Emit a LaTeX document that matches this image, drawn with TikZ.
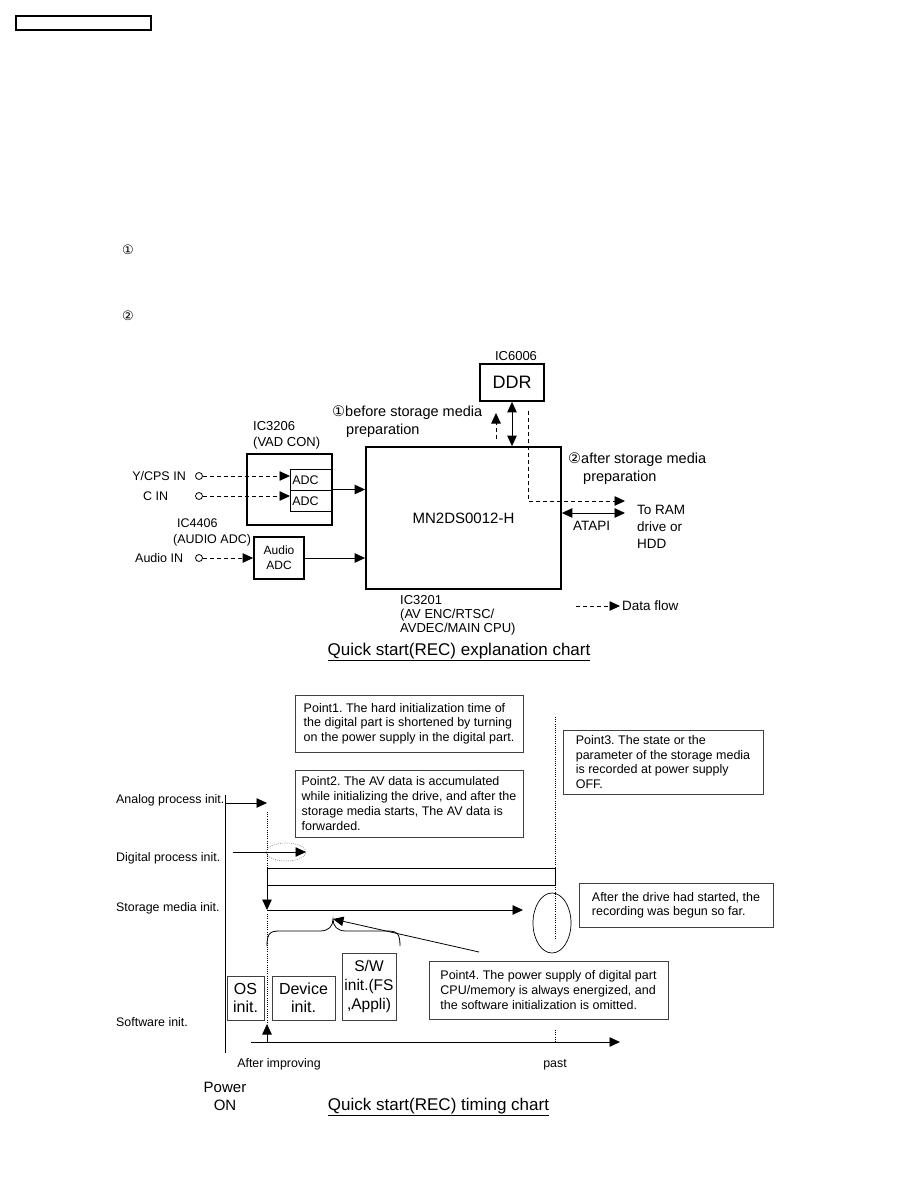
\documentclass[tikz,border=0pt]{standalone}
\usepackage{fontspec}
\setmainfont{Liberation Sans}
\newfontfamily\symfont{DejaVu Sans}
\usetikzlibrary{arrows.meta,shapes.geometric}
\newcommand\myfs[2]{\fontsize{#1}{#2}\selectfont}
\frenchspacing
\tikzset{
  >={Triangle[length=10.5pt,width=9.5pt]},
  thickbox/.style={draw, line width=1.8pt, inner sep=0pt},
  thinbox/.style={draw, line width=0.7pt, inner sep=0pt},
  notebox/.style={draw=black!75, line width=0.9pt, inner sep=0pt, align=left, font=\myfs{12.5}{14.7}},
  swbox/.style={draw=black!75, line width=0.9pt, inner sep=0pt, align=center},
  txt/.style={inner sep=0pt, anchor=west, font=\myfs{12.5}{14}, text height=9pt, text depth=0pt},
  ctxt/.style={inner sep=0pt, font=\myfs{12.4}{14}, text height=8.8pt, text depth=0pt},
  flow/.style={->, line width=0.9pt},
  dflow/.style={->, line width=0.8pt, dash pattern=on 4pt off 3pt},
  dotline/.style={line width=0.6pt, dash pattern=on 0.8pt off 1.4pt},
  port/.style={circle, draw, line width=0.8pt, minimum size=7pt, inner sep=0pt}
}
\begin{document}
\begin{tikzpicture}[x=1pt,y=-1pt]
\useasboundingbox (0,0) rectangle (918,1188);
% header box
\node[draw, line width=1.2pt, minimum width=135pt, minimum height=14pt, inner sep=0pt] (hdr) at (83.5,23) {};
% circled numbers
\node[inner sep=0pt, font=\symfont\myfs{13}{13}] (c1) at (128,250) {①};
\node[inner sep=0pt, font=\symfont\myfs{13}{13}] (c2) at (128,316) {②};

% ===== block diagram =====
\node[thickbox, minimum width=64pt, minimum height=37pt, font=\myfs{18}{18}] (ddr) at (512,382.5) {DDR};
\node[txt, anchor=center, font=\myfs{13}{14}] (ic6006) at (516,356) {IC6006};
\node[thickbox, minimum width=195pt, minimum height=142pt, font=\myfs{15}{15}] (mn) at (463.5,518) {MN2DS0012-H};
\draw[<->, line width=0.9pt] (ddr.south) -- (ddr.south |- mn.north);
\coordinate (up0) at (496,439);
\coordinate (up1) at (496,413);
\draw[dflow] (up0) -- (up1);
\coordinate (dd0) at (528,411);
\coordinate (dd1) at (528,501);
\coordinate (dd2) at (625,501);
\draw[dflow] (dd0) -- (dd1) -- (dd2);
\coordinate (at1) at (625,513);
\draw[<->, line width=0.9pt] (mn.east |- at1) -- (at1);

\node[txt, font=\myfs{14.5}{16}] (bsm) at (332,412) {{\symfont①}before storage media};
\node[txt, font=\myfs{14.5}{16}] (bsm2) at (346,430) {preparation};
\node[txt, font=\myfs{14.5}{16}] (asm) at (568,459) {{\symfont②}after storage media};
\node[txt, font=\myfs{14.5}{16}] (asm2) at (583,477) {preparation};
\node[txt, font=\myfs{13.5}{16}] (ram1) at (637,510) {To RAM};
\node[txt, font=\myfs{13.5}{16}] (ram2) at (637,527) {drive or};
\node[txt, font=\myfs{13.5}{16}] (ram3) at (637,544) {HDD};
\node[txt, font=\myfs{13.5}{16}] (atapi) at (573,526) {ATAPI};

% VAD CON
\node[thickbox, minimum width=85pt, minimum height=71pt] (vad) at (289.5,489.5) {};
\node[txt, font=\myfs{13}{14}] (ic3206) at (253,426) {IC3206};
\node[txt, font=\myfs{13}{14}] (vadl) at (253,442) {(VAD CON)};
\node[thinbox, minimum width=42pt, minimum height=21pt, anchor=north west, font=\myfs{12.5}{14}, text width=38pt, align=left, inner xsep=2pt] (adc1) at (290,469) {ADC};
\node[thinbox, minimum width=42pt, minimum height=21pt, anchor=north west, font=\myfs{12.5}{14}, text width=38pt, align=left, inner xsep=2pt] (adc2) at (290,490) {ADC};
\draw[flow] (vad.east) -- (vad.east -| mn.west);

\node[port] (iny) at (199,476) {};
\node[port] (inc) at (199,496) {};
\node[port] (ina) at (199,558) {};
\node[txt, anchor=east] (ly) at (186,476) {Y/CPS IN};
\node[txt] (lc) at (143,496) {C IN};
\node[txt] (la) at (135,558) {Audio IN};
\draw[dflow] (iny) -- (iny -| adc1.west);
\draw[dflow] (inc) -- (inc -| adc2.west);

% Audio ADC
\node[thickbox, minimum width=50pt, minimum height=42pt, align=center, font=\myfs{12}{15}] (aud) at (279,558) {Audio\\ADC};
\node[txt] (ic4406) at (177,523) {IC4406};
\node[txt] (audl) at (173,539) {(AUDIO ADC)};
\draw[dflow] (ina) -- (aud.west);
\draw[flow] (aud.east) -- (aud.east -| mn.west);

\node[inner sep=0pt, anchor=north west, align=left, font=\myfs{13}{14}] (ic3201) at (400,595) {IC3201\\(AV ENC/RTSC/\\AVDEC/MAIN CPU)};
\coordinate (df0) at (576,606);
\coordinate (df1) at (620,606);
\draw[dflow] (df0) -- (df1);
\node[txt, font=\myfs{13.5}{16}] (dfl) at (622,606) {Data flow};
\node[inner sep=0pt, font=\myfs{17}{18}] (t1) at (459,652) {\underline{Quick start(REC) explanation chart}};

% ===== timing chart =====
\node[notebox, minimum width=228pt, minimum height=57pt] (p1) at (409,723.5)
  {Point1. The hard initialization time of\\the digital part is shortened by turning\\on the power supply in the digital part.};
\node[notebox, minimum width=228pt, minimum height=67pt] (p2) at (409,803.5)
  {Point2. The AV data is accumulated\\while initializing the drive, and after the\\storage media starts, The AV data is\\forwarded.};
\node[notebox, minimum width=200pt, minimum height=64pt] (p3) at (663,762)
  {Point3. The state or the\\parameter of the storage media\\is recorded at power supply\\OFF.};
\node[notebox, minimum width=194pt, minimum height=44pt, font=\myfs{12.5}{14}] (p5) at (676,905)
  {After the drive had started, the\\recording was begun so far.};
\node[notebox, minimum width=239pt, minimum height=58pt] (p4) at (548.5,990)
  {Point4. The power supply of digital part\\CPU/memory is always energized, and\\the software initialization is omitted.};

\node[ctxt, anchor=west] (la1) at (116,799) {Analog process init.};
\node[ctxt, anchor=west] (la2) at (116,857) {Digital process init.};
\node[ctxt, anchor=west] (la3) at (116,907) {Storage media init.};
\node[ctxt, anchor=west] (la4) at (116,1022) {Software init.};

% left vertical
\coordinate (vt) at (225,795);
\coordinate (vb) at (225,1053);
\draw[line width=0.9pt] (vt) -- (vb);
% analog arrow
\coordinate (aa1) at (267,803);
\draw[flow, line width=0.8pt] (vt |- aa1) -- (aa1);
% dotted line at x=267
\coordinate (d1) at (267,812);
\coordinate (bar0) at (267,868);
\coordinate (bar1) at (555,885);
\draw[dotline] (d1) -- (bar0);
\draw[line width=0.8pt] (bar0) rectangle (bar1);
% digital arrow
\coordinate (da0) at (233,852);
\coordinate (da1) at (306,852);
\draw[flow, line width=0.8pt] (da0) -- (da1);
\node[ellipse, draw=black!60, dotline, minimum width=40pt, minimum height=18pt, inner sep=0pt] (ell1) at (286,852) {};
% storage
\coordinate (s0) at (267,885);
\coordinate (s1) at (267,910);
\coordinate (s2) at (523,910);
\draw[flow, line width=0.8pt] (s0) -- (s1);
\draw[flow, line width=0.8pt] (s1) -- (s2);
\node[ellipse, draw, line width=0.7pt, minimum width=38pt, minimum height=60pt, inner sep=0pt] (ell2) at (552,923) {};
% dotted line at x=555
\coordinate (e0) at (555,717);
\coordinate (e1) at (555,868);
\coordinate (e2) at (555,885);
\coordinate (e3) at (555,940);
\draw[dotline] (e0) -- (e1);
\draw[dotline] (e2) -- (e3);
% dotted below storage
\coordinate (f0) at (267,914);
\coordinate (f1) at (267,1024);
\draw[dotline] (f0) -- (f1);
% software boxes
\node[swbox, minimum width=37pt, minimum height=44pt, font=\myfs{16}{17.5}] (os) at (245.5,998) {OS\\init.};
\node[swbox, minimum width=63pt, minimum height=44pt, font=\myfs{16}{17.5}] (dev) at (303.5,998) {Device\\init.};
\node[swbox, minimum width=54pt, minimum height=67pt, font=\myfs{15.5}{19}] (sw) at (369,986.5) {S/W\\init.(FS\\,Appli)};
% brace
\coordinate (br0) at (267,946);
\coordinate (brt) at (333,919);
\coordinate (br1) at (400,946);
\draw[line width=0.8pt] (br0) .. controls (267,933) and (270,931) .. (280,931) -- (320,931)
   .. controls (329,931) and (333,926) .. (brt)
   .. controls (333,926) and (337,931) .. (346,931) -- (387,931)
   .. controls (397,931) and (400,933) .. (br1);
% arrow from Point4 to brace tip
\coordinate (pa) at (479,952);
\draw[flow, line width=0.8pt] (pa) -- (brt);
% time axis
\coordinate (ax0) at (251,1042);
\coordinate (ax1) at (620,1042);
\draw[flow, line width=0.8pt] (ax0) -- (ax1);
\coordinate (ua0) at (267,1043);
\draw[flow, line width=0.8pt] (ua0) -- (f1);
\coordinate (pt0) at (555,1030);
\coordinate (pt1) at (555,1042);
\draw[dotline] (pt0) -- (pt1);

\node[ctxt] (aft) at (279,1063) {After improving};
\node[ctxt] (past) at (555,1063) {past};
\node[inner sep=0pt, align=center, font=\myfs{15}{18}] (pon) at (225,1096) {Power\\ON};
\node[inner sep=0pt, font=\myfs{17}{18}] (t2) at (438.5,1107) {\underline{Quick start(REC) timing chart}};
\end{tikzpicture}
\end{document}
